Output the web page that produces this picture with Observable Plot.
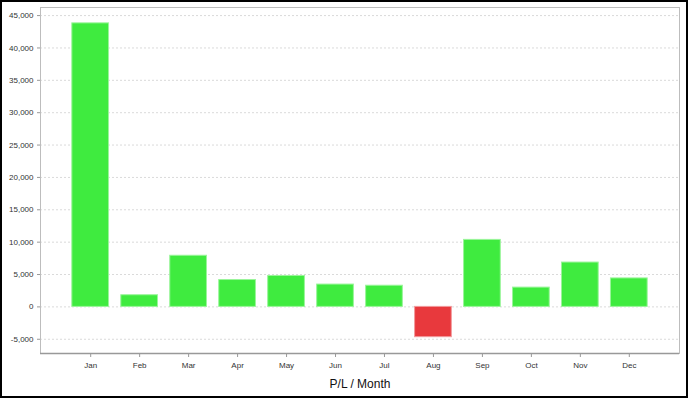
<!DOCTYPE html>
<html>
<head>
<meta charset="utf-8">
<script src="https://cdn.jsdelivr.net/npm/d3@7"></script>
<script src="https://cdn.jsdelivr.net/npm/@observablehq/plot@0.6"></script>
<style>
  html, body { margin: 0; padding: 0; background: #fff; }
  #chart svg { display: block; outline: 2px solid #000; outline-offset: -2px; }
</style>
</head>
<body>
<div id="chart"></div>
<script>
const months = ["Jan","Feb","Mar","Apr","May","Jun","Jul","Aug","Sep","Oct","Nov","Dec"];
const pl = [43800, 1800, 7900, 4150, 4780, 3450, 3270, -4680, 10350, 2980, 6850, 4400];
const yTicks = [-5000, 0, 5000, 10000, 15000, 20000, 25000, 30000, 35000, 40000, 45000];
const title = "P/L / Month";

const data = months.map((m, i) => ({month: m, value: pl[i]}));
const fmt = d => d.toLocaleString("en-US");

const chart = Plot.plot({
  width: 688,
  height: 398,
  marginLeft: 40,
  marginRight: 9,
  marginTop: 7,
  marginBottom: 45,
  style: {fontFamily: "'Liberation Sans', Arial, sans-serif", fontSize: "8px", color: "#333", background: "#fff"},
  x: {domain: months, paddingInner: 0.25, paddingOuter: 0.65, round: false},
  y: {domain: [-7200, 46250]},
  marks: [
    Plot.gridY(yTicks, {stroke: "#dadada", strokeOpacity: 1, strokeDasharray: "2,2"}),
    Plot.barY(data, {
      x: "month", y: "value",
      fill: d => d.value >= 0 ? "#3feb3f" : "#e8393d",
      stroke: d => d.value >= 0 ? "#9af59a" : "#f29a9c",
      strokeWidth: 1
    }),
    Plot.frame({stroke: "#bdbdbd"}),
    Plot.axisY(yTicks, {tickFormat: fmt, tickSize: 3, tickPadding: 4, stroke: "#999", fill: "#333", label: null}),
    Plot.axisX({tickSize: 4, tickPadding: 5, stroke: "#999", fill: "#333", label: title, labelAnchor: "center", labelArrow: "none", labelOffset: 34, fontSize: 8}),
    Plot.ruleX([0], {x: () => null, frameAnchor: "left", stroke: "#999", strokeWidth: 1.5}),
    Plot.ruleY([-7200], {stroke: "#999", strokeWidth: 1.5})
  ]
});

document.getElementById("chart").append(chart);
chart.querySelectorAll("[aria-label='x-axis label'] text").forEach(t => { t.setAttribute("font-size", "12"); t.style.fontSize = "12px"; t.setAttribute("fill", "#111"); });
</script>
</body>
</html>
